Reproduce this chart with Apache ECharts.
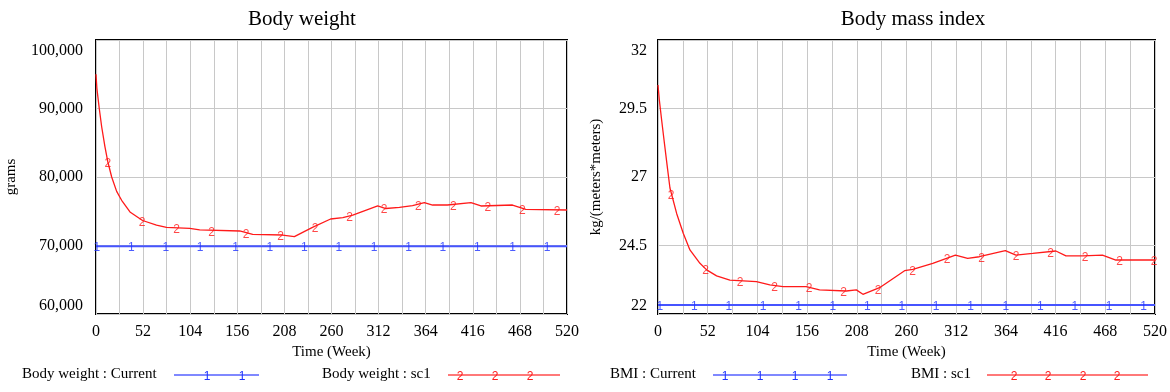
<!DOCTYPE html>
<html>
<head>
<meta charset="utf-8">
<script src="https://cdn.jsdelivr.net/npm/echarts@6/dist/echarts.min.js"></script>
<style>
  html, body { margin: 0; padding: 0; background: #fff; }
  #chart { width: 1170px; height: 392px; }
</style>
</head>
<body>
<div id="chart"></div>
<script>
// Body weight (grams), scenario sc1
const bwWeeks = [0, 1, 3.6, 6.3, 9.9, 12.9, 17.3, 22.8, 28.3, 37.5, 51.4, 66.8, 77.8, 103.5, 114.5, 158.6, 173, 206, 219, 239, 259, 272.5, 283.5, 311, 320, 335, 349.5, 362.5, 371.6, 388, 414, 425, 459.8, 474.5, 520]
const bwSc1 = [95000, 92900, 90000, 87300, 84400, 82300, 80000, 77900, 76600, 74900, 73650, 72990, 72650, 72500, 72270, 72120, 71630, 71530, 71290, 72650, 73870, 74060, 74450, 75770, 75400, 75570, 75810, 76250, 75910, 75910, 76250, 75770, 75910, 75280, 75180]
const bwSc1MarkWeeks = [13, 51, 89, 127.5, 165.6, 203.8, 242, 280, 318, 356, 394.5, 432.6, 470.8, 509]
const bwSc1MarkValues = [82250, 73650, 72600, 72200, 71900, 71530, 72800, 74350, 75500, 76000, 75950, 75800, 75400, 75200]
// Body weight, Current (flat)
const currentWeeks = [0, 520]
const bwCurrent = [69900, 69900]
const bwCurrentMarkWeeks = [1, 39, 77, 115, 154, 192, 230, 268, 307, 345, 383, 421, 460, 498]

// BMI (kg/m^2), scenario sc1
const bmiWeeks = [0, 1.4, 3.8, 6.3, 9.7, 12.5, 19.5, 26.4, 33.4, 43.9, 50.9, 61.3, 75.2, 103, 117, 130.8, 155, 169, 197, 207.5, 214.4, 231.8, 258, 266.6, 287.5, 311.2, 324, 336.2, 363.4, 374.5, 392, 416.3, 426.8, 444.2, 465, 479, 520]
const bmiSc1 = [30.36, 29.81, 29.08, 28.35, 27.38, 26.6, 25.67, 24.95, 24.34, 23.85, 23.61, 23.39, 23.24, 23.18, 23.06, 23.0, 23.0, 22.88, 22.84, 22.88, 22.72, 22.96, 23.58, 23.63, 23.85, 24.15, 24.03, 24.09, 24.31, 24.15, 24.21, 24.30, 24.12, 24.12, 24.15, 23.97, 23.97]
const bmiSc1MarkWeeks = [13.6, 49.7, 85.8, 121.9, 158, 194.1, 230.2, 266.3, 302.4, 338.5, 374.6, 410.7, 446.8, 482.9, 519]
const bmiSc1MarkValues = [26.4, 23.64, 23.21, 23.04, 22.99, 22.85, 22.93, 23.63, 24.05, 24.10, 24.15, 24.28, 24.12, 23.97, 23.97]
const bmiCurrent = [22.33, 22.33]
const bmiCurrentMarkWeeks = [2, 38, 74, 110, 147, 183, 219, 255, 291, 327, 364, 400, 436, 472, 508]

const SERIF = '"Liberation Serif", "Times New Roman", serif'
const SANS = '"Liberation Sans", Arial, sans-serif'
const RED = '#ff1a1a'
const BLUE = '#4654ff'
const BLUE_TXT = '#1f33ff'

const zip = (xs, ys) => xs.map((x, i) => [x, ys[i]])

const xAxisFor = (gridIndex) => ({
  type: 'value',
  gridIndex,
  min: 0,
  max: 520,
  interval: 26,
  name: 'Time (Week)',
  nameLocation: 'middle',
  nameGap: 29,
  nameTextStyle: { fontFamily: SERIF, fontSize: 15, color: '#000' },
  axisLine: { show: false },
  axisTick: { show: false },
  axisLabel: {
    fontFamily: SERIF, fontSize: 16, color: '#000', margin: 10,
    formatter: (v) => (v % 52 === 0 ? String(v) : '')
  },
  splitLine: { show: true, lineStyle: { color: '#c8c8c8', width: 1 } }
})

// end labels sit inside the plot range, as in the source tool
const yAxisFor = (gridIndex, min, max, interval, name, nameGap, fmt, margin) => ({
  type: 'value',
  gridIndex,
  min, max, interval,
  name,
  nameLocation: 'middle',
  nameRotate: 90,
  nameGap,
  nameTextStyle: { fontFamily: SERIF, fontSize: 15, color: '#000' },
  axisLine: { show: false },
  axisTick: { show: false },
  axisLabel: {
    fontFamily: SERIF, fontSize: 16, color: '#000', margin,
    formatter: (v) => {
      if (v === max) return '{top|' + fmt(v) + '}'
      if (v === min) return '{bot|' + fmt(v) + '}'
      return fmt(v)
    },
    rich: {
      top: { fontFamily: SERIF, fontSize: 16, color: '#000', padding: [22, 0, 0, 0] },
      bot: { fontFamily: SERIF, fontSize: 16, color: '#000', padding: [0, 0, 17, 0] }
    }
  },
  splitLine: { show: true, lineStyle: { color: '#c8c8c8', width: 1 } }
})

const lineSeries = (name, idx, data, color, width) => ({
  name, type: 'line', xAxisIndex: idx, yAxisIndex: idx,
  data, showSymbol: false, symbol: 'none', smooth: false,
  lineStyle: { color, width }, z: 3, silent: true
})

const markSeries = (idx, data, text, color) => ({
  type: 'scatter', xAxisIndex: idx, yAxisIndex: idx,
  data, symbol: 'circle', symbolSize: 2,
  itemStyle: { color: 'rgba(0,0,0,0)' },
  label: { show: true, position: 'inside', formatter: text, color, fontFamily: SANS, fontSize: 12, offset: [0, 2] },
  z: 4, silent: true
})

// flat Current series: marker values equal the constant level
const bwCurrentMarks = bwCurrentMarkWeeks.map((w) => [w, bwCurrent[0]])
const bmiCurrentMarks = bmiCurrentMarkWeeks.map((w) => [w, bmiCurrent[0]])

// legend drawn as graphic items (line sample with numbered markers)
const legendItem = (textX, label, x1, x2, markXs, mark, color, markColor) => {
  const y = 376
  const els = [
    { type: 'text', left: textX, top: y - 9, style: { text: label, font: '15px ' + SERIF, fill: '#000' } },
    { type: 'line', shape: { x1, y1: y - 1, x2, y2: y - 1 }, style: { stroke: color, lineWidth: 1.5 } }
  ]
  markXs.forEach((mx) => {
    els.push({ type: 'text', x: mx, y: y + 1, style: { text: mark, font: '12px ' + SANS, fill: markColor, align: 'center', verticalAlign: 'middle' } })
  })
  return els
}

const chart = echarts.init(document.getElementById('chart'), null, { renderer: 'canvas' })

const option = {
  backgroundColor: '#fff',
  animation: false,
  title: [
    { text: 'Body weight', left: 297, top: 4, textAlign: 'center', textStyle: { fontFamily: SERIF, fontSize: 21, fontWeight: 'normal', color: '#000' } },
    { text: 'Body mass index', left: 908, top: 4, textAlign: 'center', textStyle: { fontFamily: SERIF, fontSize: 21, fontWeight: 'normal', color: '#000' } }
  ],
  grid: [
    { left: 96, top: 40, width: 471, height: 274, show: true, borderColor: '#000', borderWidth: 2, backgroundColor: 'transparent' },
    { left: 658, top: 40, width: 498, height: 274, show: true, borderColor: '#000', borderWidth: 2, backgroundColor: 'transparent' }
  ],
  xAxis: [xAxisFor(0), xAxisFor(1)],
  yAxis: [
    yAxisFor(0, 60000, 100000, 10000, 'grams', 77, (v) => v.toLocaleString('en-US'), 13),
    yAxisFor(1, 22, 32, 2.5, 'kg/(meters*meters)', 54, (v) => String(v), 11)
  ],
  series: [
    lineSeries('Body weight : Current', 0, zip(currentWeeks, bwCurrent), BLUE, 2),
    lineSeries('Body weight : sc1', 0, zip(bwWeeks, bwSc1), RED, 1.3),
    markSeries(0, bwCurrentMarks, '1', BLUE_TXT),
    markSeries(0, zip(bwSc1MarkWeeks, bwSc1MarkValues), '2', RED),
    lineSeries('BMI : Current', 1, zip(currentWeeks, bmiCurrent), BLUE, 2),
    lineSeries('BMI : sc1', 1, zip(bmiWeeks, bmiSc1), RED, 1.3),
    markSeries(1, bmiCurrentMarks, '1', BLUE_TXT),
    markSeries(1, zip(bmiSc1MarkWeeks, bmiSc1MarkValues), '2', RED)
  ],
  graphic: [
    ...legendItem(22, 'Body weight : Current', 174, 259, [207, 242], '1', '#5560ff', BLUE_TXT),
    ...legendItem(322, 'Body weight : sc1', 448, 560, [460, 495, 530], '2', '#ff4d4d', RED),
    ...legendItem(610, 'BMI : Current', 713, 847, [725, 760, 795, 830], '1', '#5560ff', BLUE_TXT),
    ...legendItem(911, 'BMI : sc1', 987, 1148, [1014, 1048, 1083, 1117], '2', '#ff4d4d', RED)
  ]
}

chart.setOption(option)
window.addEventListener('resize', () => chart.resize())
</script>
</body>
</html>
